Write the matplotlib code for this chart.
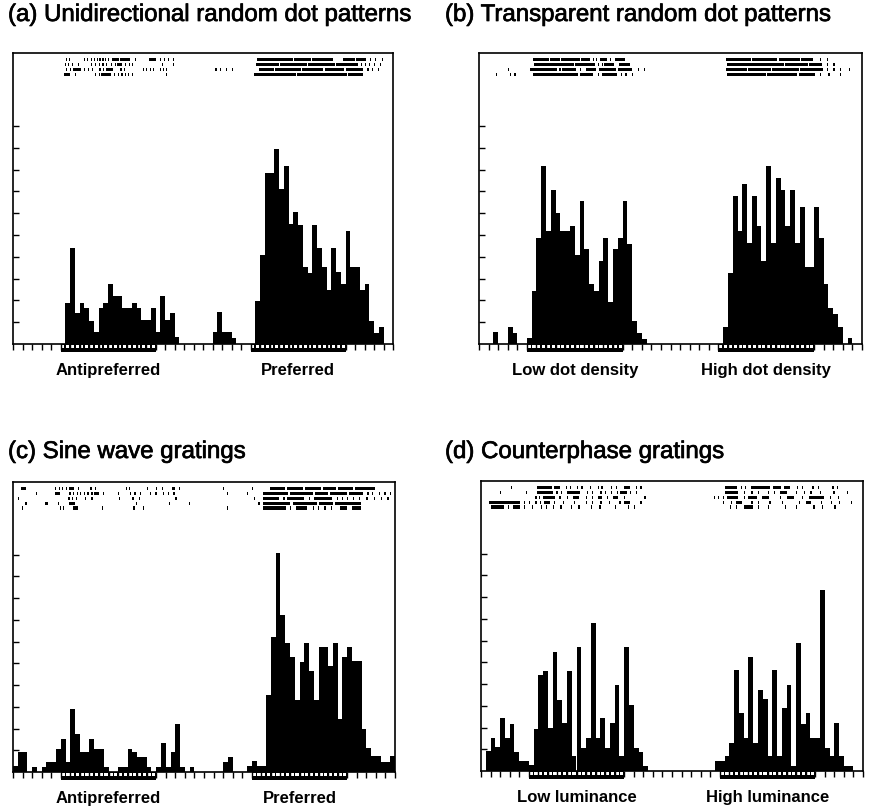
"""Spike rasters and PSTHs for four stimulus conditions (a)-(d)."""
import numpy as np
import matplotlib.pyplot as plt
import matplotlib.patheffects as pe

plt.rcParams['font.family'] = ['Liberation Sans', 'DejaVu Sans']

bin_width = 0.5          # histogram bins, in tick units
x_max = 40               # 40 ticks along the time axis
stimuli = [(5, 15), (25, 35)]

titles = ["(a) Unidirectional random dot patterns",
          "(b) Transparent random dot patterns",
          "(c) Sine wave gratings",
          "(d) Counterphase gratings"]

stim_labels = [["Antipreferred", "Preferred"],
               ["Low dot density", "High dot density"],
               ["Antipreferred", "Preferred"],
               ["Low luminance", "High luminance"]]

# bin heights, in y-tick units (80 bins of 0.5)
counts_a = [0, 0, 0, 0, 0, 0, 0, 0, 0, 0,
            0, 1.9, 4.4, 1.4, 1.9, 1.65, 1.05, 0.55, 1.65, 1.9,
            2.75, 2.2, 2.2, 1.65, 1.65, 1.9, 1.65, 1.1, 1.1, 1.65,
            0.55, 2.2, 1.1, 1.4, 0.3, 0, 0, 0, 0, 0,
            0, 0, 0.55, 1.45, 0.55, 0.55, 0.27, 0, 0, 0,
            0, 1.95, 4.1, 7.85, 7.85, 8.95, 7.1, 8.15, 5.5, 6.05,
            5.45, 3.55, 3.25, 5.45, 4.4, 3.55, 2.5, 4.4, 3.3, 2.75,
            5.2, 3.55, 3.55, 2.5, 2.75, 1.05, 0.5, 0.8, 0, 0]

counts_b = [0, 0, 0, 0.54, 0, 0, 0.8, 0.52, 0, 0,
            0.27, 2.45, 4.87, 8.16, 5.18, 7.07, 6.03, 5.18, 5.18, 5.42,
            4.07, 6.54, 4.35, 2.73, 2.45, 3.83, 4.87, 1.91, 4.35, 4.87,
            6.55, 4.6, 1.04, 0.52, 0.23, 0, 0, 0, 0, 0,
            0, 0, 0, 0, 0, 0, 0, 0, 0, 0,
            0, 0.8, 3.25, 6.81, 5.18, 7.35, 4.62, 6.81, 5.42, 3.83,
            8.16, 4.62, 7.63, 7.07, 5.42, 7.07, 4.62, 6.28, 3.52, 3.52,
            6.28, 4.87, 2.73, 1.65, 1.38, 0.8, 0, 0.26, 0, 0]

counts_c = [0.26, 0.9, 0.9, 0, 0.25, 0, 0.25, 0.47, 0.47, 1.08,
            1.53, 0.45, 2.88, 1.75, 0.9, 0.9, 1.53, 1.08, 1.08, 0.25,
            0, 0, 0.25, 0.25, 1.08, 0.9, 0.7, 0.7, 0.25, 0,
            0.25, 1.32, 0.25, 0.9, 2.2, 0.25, 0, 0.25, 0, 0,
            0, 0, 0, 0, 0.46, 0.7, 0, 0, 0, 0.26,
            0.5, 0.26, 0.26, 3.54, 6.2, 10.1, 7.23, 5.95, 5.28, 3.3,
            5.08, 5.92, 4.66, 3.3, 5.74, 5.74, 4.88, 5.95, 2.46, 5.28,
            5.74, 5.12, 5.12, 2.0, 1.12, 0.72, 0.72, 0.46, 0.46, 0.72]

counts_d = [0, 0.92, 1.54, 1.1, 2.42, 1.54, 2.18, 0.88, 0.45, 0.45,
            0.26, 1.95, 4.4, 4.6, 1.98, 5.46, 3.29, 2.2, 4.6, 0.69,
            5.7, 1.08, 1.54, 6.8, 1.54, 2.42, 1.08, 2.23, 3.95, 0.69,
            5.7, 3.03, 1.08, 0.88, 0.23, 0, 0, 0, 0, 0,
            0, 0, 0, 0, 0, 0, 0, 0, 0, 0.45,
            0.45, 0.68, 1.3, 4.65, 2.65, 1.52, 5.26, 1.3, 3.72, 3.3,
            0.68, 4.65, 0.68, 2.88, 3.95, 0.23, 5.9, 2.18, 2.65, 1.52,
            1.52, 8.34, 1.08, 0.68, 2.2, 0.68, 0.23, 0.23, 0, 0]

# raster rows: single spikes as floats, dense bursts as (start, end)
raster_a = [
    [5.6, 5.9, 7.5, 7.8, 8.2, 8.5, 8.8, 9.1, 9.4, 9.7, 10.0, (10.4, 11.2),
     (11.3, 12.3), 12.8, (14.3, 15.1), 15.5, 15.9, 16.3, 16.8,
     (25.7, 29.5), (29.6, 31.4), (31.5, 33.7), (34.7, 36.0), (36.1, 37.2),
     37.6, 38.1, 38.8],
    [5.5, 5.8, 6.2, 6.8, 8.2, 8.6, 9.0, 9.4, 9.8, 10.3, 10.7, (10.9, 11.5),
     11.8, 12.2, 12.5, 15.7, 16.8,
     (25.6, 28.0), (28.1, 30.9), (31.0, 33.9), (34.0, 36.3), 36.6, 37.0,
     37.5, 38.0, 38.6],
    [5.6, 6.0, (6.3, 7.2), 7.5, 7.9, 8.3, 9.1, 9.5, (9.8, 10.5), 11.3, 11.7,
     13.7, 14.0, 14.4, 14.7, 15.5, 15.8, 16.1, 21.3, 21.8, 22.4, 23.0,
     (25.9, 27.5), (27.6, 30.3), (30.4, 32.6), (32.8, 34.8), (35.0, 36.8),
     37.3, 37.8, 38.4],
    [(5.4, 6.0), 6.5, 8.6, 9.0, (9.3, 10.3), 10.6, 11.0, 11.4, 11.8, 12.1,
     12.5, 16.1, (25.4, 29.8), (29.9, 33.0), (33.1, 35.2), (35.3, 36.8)],
]

raster_b = [
    [(5.6, 7.3), (7.4, 8.5), (8.6, 10.5), (10.7, 11.6), 11.9, 12.2,
     (12.6, 13.4), 13.7, (14.2, 15.2), (25.8, 28.4), (28.5, 31.1),
     (31.3, 33.5), (33.6, 34.9), 35.6, 36.3],
    [(5.7, 9.9), (10.0, 12.1), 12.4, 12.8, (13.1, 14.1), (14.6, 15.8),
     (25.9, 29.4), (29.5, 31.9), (32.0, 34.4), (34.5, 35.8), 36.3, 37.0],
    [3.0, (5.3, 8.1), 8.4, (8.7, 10.1), 10.5, (11.2, 12.2), (12.5, 14.3),
     (14.5, 16.0), 16.6, 17.2, (25.8, 28.0), (28.1, 30.5), (30.6, 33.4),
     (33.5, 35.9), 36.3, 37.0, 37.7, 38.6],
    [1.8, 3.2, 3.7, (5.6, 10.3), (10.5, 11.9), 12.4, (12.8, 14.4), 14.8,
     15.3, 16.0, (25.9, 30.0), (30.1, 33.2), (33.4, 35.1), 35.6, 36.5, 37.7],
]

raster_c = [
    [(0.8, 1.4), 4.4, 4.8, 5.1, 5.5, (5.9, 6.4), 6.8, 8.1, 8.6, 11.8, 12.1,
     14.0, 15.0, 15.6, (16.6, 17.0), 17.4, 22.0, 25.0, (26.9, 28.5),
     (28.7, 30.4), (30.6, 32.3), (32.5, 33.8), (34.0, 35.6), (35.8, 37.9)],
    [2.4, (4.4, 4.9), 5.9, 6.3, 6.7, 7.0, 7.4, 7.8, 8.2, (8.5, 9.0), 9.4,
     11.0, 12.2, 12.7, 13.3, 14.3, 14.9, 15.7, 16.2, 16.8, 22.4, 24.5,
     (26.2, 28.8), (29.0, 31.4), (31.6, 33.0), (33.2, 35.0), (35.2, 36.7),
     37.1, 37.6, 38.3, 38.9, 39.5],
    [0.5, 5.8, 6.2, 6.6, 7.5, 8.2, 11.1, 12.5, 13.2, 17.0, 25.2, (26.2, 27.9),
     28.3, (28.7, 30.5), 31.0, (31.5, 33.4), 33.9, 34.4, 35.0, 35.6, 36.2,
     37.0, 37.8, 38.5, 39.2],
    [1.3, (3.3, 3.7), 4.7, (5.9, 6.5), 12.9, 16.3, 18.4, 25.7, (26.2, 29.0),
     (29.3, 31.8), (32.0, 33.5), (33.7, 36.4)],
    [0.9, 4.9, 5.2, (6.3, 6.8), 9.3, 12.6, 13.6, 22.4, (26.2, 28.6), 29.0,
     (29.6, 30.8), 31.4, 31.9, 32.6, 33.3, (34.2, 35.0), (35.5, 36.4)],
]

raster_d = [
    [3.1, (5.9, 7.4), (7.6, 8.3), 8.9, 9.3, 10.0, 10.5, 11.4, 12.2, 12.6,
     13.6, 14.1, (15.0, 15.6), 16.2, 16.7, (25.6, 26.8), 27.2, 27.6,
     (28.3, 30.3), (30.6, 31.4), (31.7, 32.4), 33.1, 33.6, 34.7, 35.3,
     36.8, 37.3],
    [2.0, 4.7, (5.9, 7.5), 7.9, 8.4, (9.0, 10.4), 11.1, 11.6, 12.5, 13.0,
     13.6, 14.2, (14.6, 15.3), 15.6, 16.2, (25.6, 26.9), 27.5, 28.3, 29.0,
     30.0, 30.7, (31.3, 32.0), 33.0, 33.8, 34.5, 35.5, 36.9, 38.3],
    [5.7, 6.1, (6.5, 7.7), 8.2, 9.0, (9.6, 10.3), 11.0, 11.6, (12.2, 12.7),
     13.2, (13.8, 14.3), 15.0, 17.1, 24.4, 24.8, 25.3, (25.8, 26.9), 27.5,
     (28.0, 28.9), (29.4, 30.2), 31.3, (32.0, 32.8), 33.6, (34.3, 35.9),
     36.5, 37.4],
    [(0.8, 4.1), 4.5, 5.0, 5.7, 6.2, (6.6, 7.2), 7.6, 8.6, 9.7, 11.0, 11.6,
     12.5, 13.4, 14.5, (15.0, 15.6), 16.7, 25.3, 26.2, (26.7, 27.3), 28.3,
     29.0, 30.2, 31.5, 33.3, (34.0, 34.6), 35.6, 36.6, 37.5, 38.7],
    [(1.0, 2.4), 2.8, (3.3, 4.1), 4.5, 5.3, 6.3, 6.8, 7.5, 8.3, 9.4, 10.2,
     11.5, 12.4, 14.0, 15.4, 16.0, 26.1, 26.7, (27.5, 28.5), 29.0, 30.0,
     31.8, 33.0, 34.8, 35.7, 37.0],
]

W, H = 892, 811
fig = plt.figure(figsize=(W / 100, H / 100), dpi=100)

# axes boxes in pixels: left, right, top, baseline
boxes = [(13, 393, 53, 344), (479, 862, 53, 344),
         (13, 395, 482, 772), (481, 863, 481, 771)]
title_pos = [(8, 15), (445, 15), (8, 452), (445, 452)]
y_max = 13.35


def draw_panel(ax, counts, raster, labels):
    edges = np.arange(len(counts)) * bin_width
    ax.bar(edges, counts, width=bin_width, align="edge", color="black",
           linewidth=0)

    for i, row in enumerate(raster):
        y = 13.05 - 0.225 * i
        segs = [(s[0], s[1] - s[0]) if isinstance(s, tuple) else (s, 0.13)
                for s in row]
        ax.broken_barh(segs, (y - 0.075, 0.15), facecolor="black",
                       linewidth=0)

    for (s0, s1), lab in zip(stimuli, labels):
        ax.broken_barh([(s0, s1 - s0)], (-0.38, 0.36), facecolor="black",
                       linewidth=0, clip_on=False)
        dash_x = np.arange(s0, s1, bin_width) + 0.08
        ax.bar(dash_x, 0.11, width=0.34, bottom=-0.17, align="edge",
               color="white", linewidth=0, clip_on=False)
        ax.text((s0 + s1) / 2, -0.09, lab, transform=ax.get_xaxis_transform(),
                ha="center", va="center", fontsize=12, fontweight="bold")

    ax.set_xlim(0, x_max)
    ax.set_ylim(0, y_max)
    ax.set_xticks(np.arange(0, x_max + 1))
    ax.set_yticks(np.arange(1, 11))
    ax.set_xticklabels([])
    ax.set_yticklabels([])
    ax.tick_params(axis="x", direction="out", length=4, width=1)
    ax.tick_params(axis="y", direction="in", length=4, width=1)
    for sp in ax.spines.values():
        sp.set_linewidth(1.2)


all_counts = [counts_a, counts_b, counts_c, counts_d]
all_rasters = [raster_a, raster_b, raster_c, raster_d]

for k in range(4):
    l, r, t, b = boxes[k]
    ax = fig.add_axes([l / W, 1 - b / H, (r - l) / W, (b - t) / H])
    draw_panel(ax, all_counts[k], all_rasters[k], stim_labels[k])
    tx, ty = title_pos[k]
    fig.text(tx / W, 1 - ty / H, titles[k], ha="left", va="center",
             fontsize=17.3,
             path_effects=[pe.withStroke(linewidth=0.5, foreground="black")])

fig.savefig("out.png", dpi=100)
